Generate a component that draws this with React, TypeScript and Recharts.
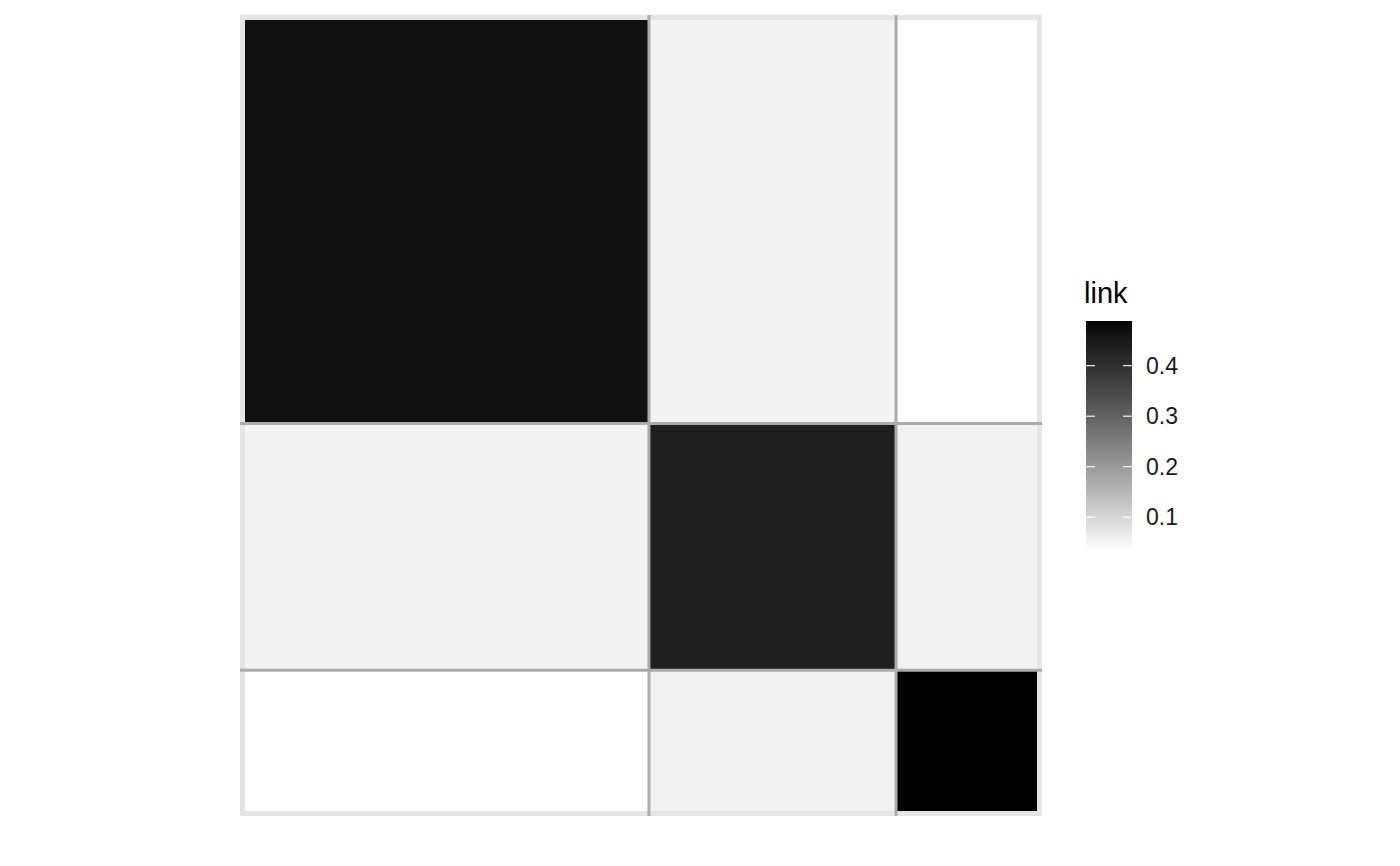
import { ComposedChart, XAxis, YAxis, ReferenceArea, ReferenceLine } from 'recharts';

// block sizes (share of nodes per group)
const groups = ['1', '2', '3'];
const groupSizes = [51, 31, 18];

// link probability between blocks, one row per group
const linkRow1 = [0.4655, 0.0538, 0.035];
const linkRow2 = [0.0538, 0.4374, 0.057];
const linkRow3 = [0.035, 0.057, 0.4885];
const linkRows = [linkRow1, linkRow2, linkRow3];

const legendTicks = [0.1, 0.2, 0.3, 0.4];
const legendTitle = 'link';

const W = 1400;
const H = 866;

const total = groupSizes.reduce((a, b) => a + b, 0);
const bounds = groupSizes.reduce<number[]>((acc, s) => [...acc, acc[acc.length - 1] + s / total], [0]);

const allValues = linkRows.flat();
const vMin = Math.min(...allValues);
const vMax = Math.max(...allValues);

// white -> black, interpolated in Lab like ggplot's scale_fill_gradient
function grey(t: number) {
  const L = 100 * (1 - t);
  const fy = (L + 16) / 116;
  const Y = fy * fy * fy > 0.008856 ? fy * fy * fy : L / 903.3;
  const s = Y <= 0.0031308 ? 12.92 * Y : 1.055 * Math.pow(Y, 1 / 2.4) - 0.055;
  const c = Math.max(0, Math.min(255, Math.round(s * 255)));
  return `rgb(${c},${c},${c})`;
}
const fillFor = (v: number) => grey((v - vMin) / (vMax - vMin));

const cells = groups.flatMap((g, i) =>
  groups.map((h, j) => ({
    key: `${g}-${h}`,
    x1: bounds[j],
    x2: bounds[j + 1],
    y1: bounds[i],
    y2: bounds[i + 1],
    value: linkRows[i][j],
  }))
);

const pad = 0.00314;

// legend bar geometry
const barX = 1086;
const barW = 46;
const barTop = 321;
const barBottom = 550;
const barY = (v: number) => barBottom - ((v - vMin) / (vMax - vMin)) * (barBottom - barTop);

function ColourBar() {
  const stops = Array.from({ length: 41 }, (_, k) => k / 40);
  return (
    <svg width={W} height={H} style={{ position: 'absolute', left: 0, top: 0, pointerEvents: 'none' }}>
      <defs>
        <linearGradient id="linkGrad" x1="0" y1="1" x2="0" y2="0">
          {stops.map((t) => (
            <stop key={t} offset={t} stopColor={grey(t)} />
          ))}
        </linearGradient>
      </defs>
      <text x={1084} y={303} fontFamily="Liberation Sans, Arial, sans-serif" fontSize={29} fill="#000">
        {legendTitle}
      </text>
      <rect x={barX} y={barTop} width={barW} height={barBottom - barTop} fill="url(#linkGrad)" />
      {legendTicks.map((v) => (
        <g key={v}>
          <line x1={barX} x2={barX + 9} y1={barY(v)} y2={barY(v)} stroke="#fff" strokeWidth={1.1} />
          <line x1={barX + barW - 9} x2={barX + barW} y1={barY(v)} y2={barY(v)} stroke="#fff" strokeWidth={1.1} />
          <text x={1146} y={barY(v) + 8.3} fontFamily="Liberation Sans, Arial, sans-serif" fontSize={23} fill="#1a1a1a">
            {v.toFixed(1)}
          </text>
        </g>
      ))}
    </svg>
  );
}

export default function App() {
  return (
    <div style={{ position: 'relative', width: W, height: H, background: '#fff' }}>
      <style>{`body{margin:0}`}</style>
      <ComposedChart width={W} height={H} data={cells} margin={{ top: 15, right: 358, bottom: 50, left: 240 }}>
        <XAxis type="number" dataKey="x1" domain={[-pad, 1 + pad]} allowDataOverflow hide />
        <YAxis type="number" dataKey="y1" domain={[-pad, 1 + pad]} allowDataOverflow reversed hide />
        {cells.map((c) => (
          <ReferenceArea
            key={c.key}
            x1={c.x1}
            x2={c.x2}
            y1={c.y1}
            y2={c.y2}
            fill={fillFor(c.value)}
            fillOpacity={1}
            stroke="none"
          />
        ))}
        <ReferenceArea x1={0} x2={1} y1={0} y2={1} fill="none" stroke="#e5e5e5" strokeWidth={5} />
        {bounds.slice(1, -1).map((b) => (
          <ReferenceLine key={`v${b}`} x={b} stroke="#ababab" strokeWidth={3} />
        ))}
        {bounds.slice(1, -1).map((b) => (
          <ReferenceLine key={`h${b}`} y={b} stroke="#ababab" strokeWidth={3} />
        ))}
      </ComposedChart>
      <ColourBar />
    </div>
  );
}
